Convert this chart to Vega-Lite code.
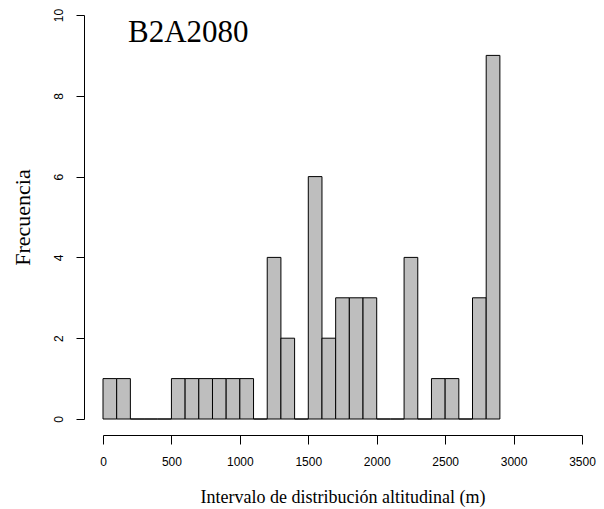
{
  "$schema": "https://vega.github.io/schema/vega-lite/v6.json",
  "width": 479,
  "height": 404,
  "autosize": {"type": "none"},
  "padding": {"left": 103, "top": 15, "right": 22, "bottom": 90},
  "background": "white",
  "data": {
    "values": [
      {"start": 0, "end": 100, "count": 1},
      {"start": 100, "end": 200, "count": 1},
      {"start": 200, "end": 300, "count": 0},
      {"start": 300, "end": 400, "count": 0},
      {"start": 400, "end": 500, "count": 0},
      {"start": 500, "end": 600, "count": 1},
      {"start": 600, "end": 700, "count": 1},
      {"start": 700, "end": 800, "count": 1},
      {"start": 800, "end": 900, "count": 1},
      {"start": 900, "end": 1000, "count": 1},
      {"start": 1000, "end": 1100, "count": 1},
      {"start": 1100, "end": 1200, "count": 0},
      {"start": 1200, "end": 1300, "count": 4},
      {"start": 1300, "end": 1400, "count": 2},
      {"start": 1400, "end": 1500, "count": 0},
      {"start": 1500, "end": 1600, "count": 6},
      {"start": 1600, "end": 1700, "count": 2},
      {"start": 1700, "end": 1800, "count": 3},
      {"start": 1800, "end": 1900, "count": 3},
      {"start": 1900, "end": 2000, "count": 3},
      {"start": 2000, "end": 2100, "count": 0},
      {"start": 2100, "end": 2200, "count": 0},
      {"start": 2200, "end": 2300, "count": 4},
      {"start": 2300, "end": 2400, "count": 0},
      {"start": 2400, "end": 2500, "count": 1},
      {"start": 2500, "end": 2600, "count": 1},
      {"start": 2600, "end": 2700, "count": 0},
      {"start": 2700, "end": 2800, "count": 3},
      {"start": 2800, "end": 2900, "count": 9}
    ]
  },
  "layer": [
    {
      "mark": {"type": "rect", "fill": "#bebebe", "stroke": "black", "strokeWidth": 1},
      "encoding": {
        "x": {
          "field": "start",
          "type": "quantitative",
          "scale": {"domain": [0, 3500], "nice": false, "zero": false},
          "axis": {
            "values": [0, 500, 1000, 1500, 2000, 2500, 3000, 3500],
            "format": "d",
            "offset": 16,
            "grid": false,
            "domainColor": "black",
            "tickColor": "black",
            "tickSize": 9,
            "labelFont": "Liberation Sans",
            "labelFontSize": 12,
            "labelColor": "black",
            "labelPadding": 12,
            "labelFlush": false,
            "labelOverlap": false,
            "title": "Intervalo de distribución altitudinal (m)",
            "titleFont": "Liberation Serif",
            "titleFontSize": 18,
            "titleFontWeight": "normal",
            "titleColor": "black",
            "titlePadding": 21
          }
        },
        "x2": {"field": "end"},
        "y": {
          "field": "count",
          "type": "quantitative",
          "scale": {"domain": [0, 10], "nice": false},
          "axis": {
            "values": [0, 2, 4, 6, 8, 10],
            "offset": 19,
            "grid": false,
            "domainColor": "black",
            "tickColor": "black",
            "tickSize": 8,
            "labelAngle": -90,
            "labelAlign": "center",
            "labelBaseline": "bottom",
            "labelFont": "Liberation Sans",
            "labelFontSize": 12,
            "labelColor": "black",
            "labelPadding": 11,
            "title": "Frecuencia",
            "titleFont": "Liberation Serif",
            "titleFontSize": 22,
            "titleFontWeight": "normal",
            "titleColor": "black",
            "titlePadding": 18
          }
        },
        "y2": {"datum": 0}
      }
    },
    {
      "data": {"values": [{"label": "B2A2080", "xpos": 183, "ypos": 9.33}]},
      "mark": {
        "type": "text",
        "align": "left",
        "baseline": "alphabetic",
        "font": "Liberation Serif",
        "fontSize": 31,
        "color": "black"
      },
      "encoding": {
        "x": {"field": "xpos", "type": "quantitative"},
        "y": {"field": "ypos", "type": "quantitative"},
        "text": {"field": "label"}
      }
    }
  ],
  "config": {"view": {"stroke": null}}
}
